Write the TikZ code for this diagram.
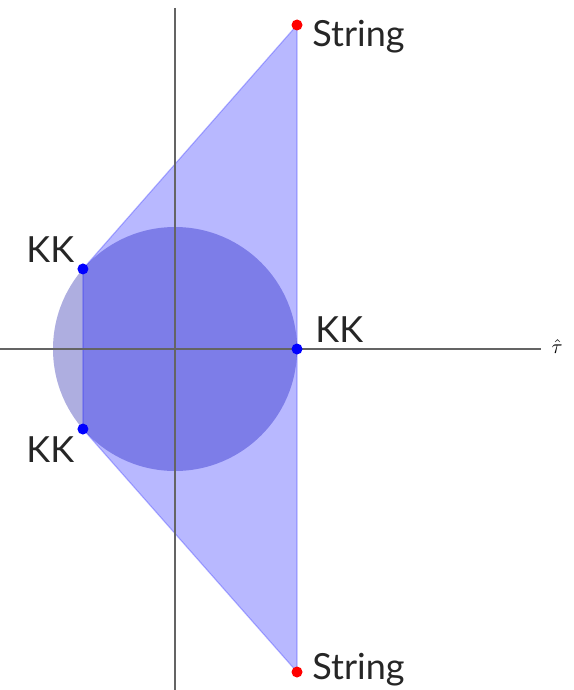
\documentclass[tikz,border=0pt]{standalone}
\usepackage{fontspec}
\setmainfont{Lato}
\usetikzlibrary{positioning,calc}
\definecolor{diskfill}{RGB}{174,174,224}
\definecolor{axisgray}{RGB}{100,100,100}
\begin{document}
\begin{tikzpicture}[x=0.5pt,y=-0.5pt,
  axis/.style={axisgray,line width=1pt},
  disk/.style={fill=diskfill,draw=none},
  region/.style={fill=blue,fill opacity=0.28,draw=blue,draw opacity=0.25,line width=0.6pt},
  dot/.style={circle,inner sep=0pt,minimum size=5.5pt},
  lbl/.style={font=\fontsize{18}{20}\selectfont,text=black!85,inner sep=0pt}]
\useasboundingbox (0,0) rectangle (573,690);
% disk and region
\fill[disk] (175,349) circle[radius=61pt];
\coordinate (top) at (297,25);
\coordinate (bot) at (297,672);
\coordinate (kkup) at ($(175,349)+(139:61pt)$);
\coordinate (kklow) at ($(175,349)+(-139:61pt)$);
\path[region] (top) -- (kkup) -- (kklow) -- (bot) -- cycle;
% axes
\coordinate (xl) at (0,349);
\coordinate (xr) at (541,349);
\coordinate (yt) at (175,8);
\coordinate (yb) at (175,690);
\draw[axis] (xl) -- (xr);
\draw[axis] (yt) -- (yb);
\node (tau) at (557,347) {$\hat{\tau}$};
% points
\node[dot,fill=red] (strtop) at (top) {};
\node[dot,fill=red] (strbot) at (bot) {};
\node[dot,fill=blue] (kka) at (kkup) {};
\node[dot,fill=blue] (kkb) at (kklow) {};
\node[dot,fill=blue] (kkc) at (297,349) {};
% labels
\node[lbl,anchor=base west] (lstrtop) at (312,47) {String};
\node[lbl,anchor=base west] (lstrbot) at (312,679) {String};
\node[lbl,anchor=base west] (lkka) at (26,262) {KK};
\node[lbl,anchor=base west] (lkkb) at (26,462) {KK};
\node[lbl,anchor=base west] (lkkc) at (315,342) {KK};
\end{tikzpicture}
\end{document}
